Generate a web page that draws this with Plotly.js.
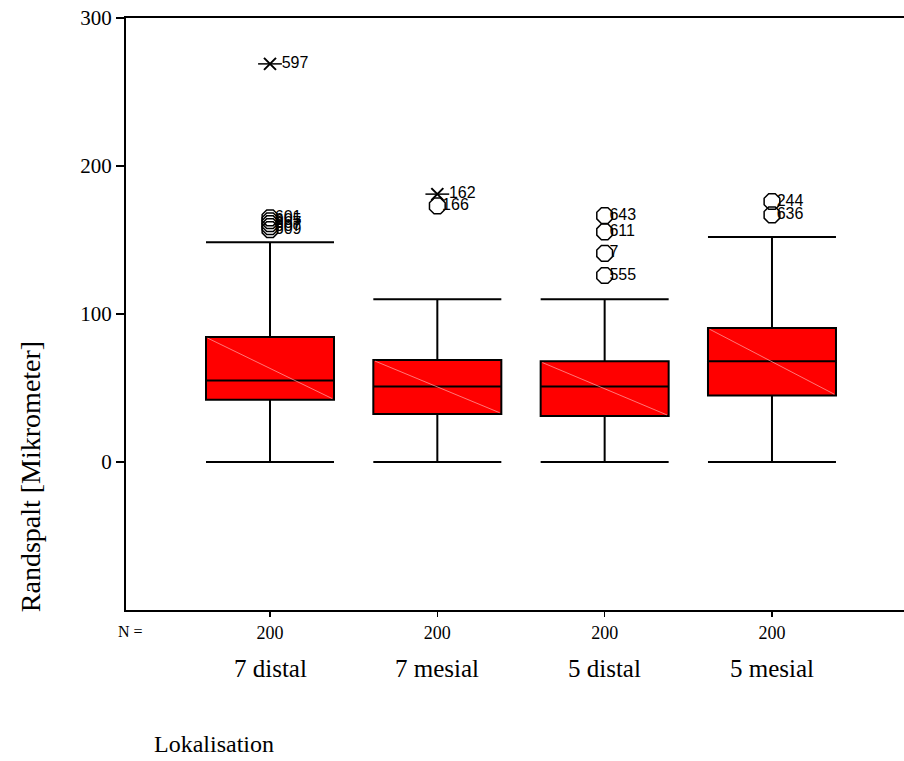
<!DOCTYPE html>
<html><head><meta charset="utf-8">
<script src="https://cdn.plot.ly/plotly-3.0.1.min.js"></script>
<style>html,body{margin:0;padding:0;background:#fff;overflow:hidden}</style>
</head><body><div id="chart" style="width:904px;height:761px"></div>
<script>
const categories = ["7 distal", "7 mesial", "5 distal", "5 mesial"];
const positions = [1, 2, 3, 4];
const nCounts = [200, 200, 200, 200];
const q1 = [42, 32.5, 31, 45];
const median = [55, 51, 51, 68];
const q3 = [84.5, 69, 68, 90.5];
const lowerWhisker = [0, 0, 0, 0];
const upperWhisker = [148.5, 110, 110, 152];
const extremePos = [1, 2];
const extremeValues = [269, 181];
const extremeLabels = ["597", "162"];
const outlierPos = [1, 1, 1, 1, 1, 2, 3, 3, 3, 3, 4, 4];
const outlierValues = [165, 163, 161, 159, 157, 173, 166.5, 155.5, 141, 126, 176, 167];
const outlierLabels = ["601", "605", "667", "607", "609", "166", "643", "611", "7", "555", "244", "636"];

const boxWidth = 0.765;
const serif = "Liberation Serif, Times New Roman, serif";
const sans = "Liberation Sans, Arial, sans-serif";

const traces = [];
categories.forEach((c, i) => {
  traces.push({
    type: "box", name: c, x: [positions[i]],
    q1: [q1[i]], median: [median[i]], q3: [q3[i]],
    lowerfence: [lowerWhisker[i]], upperfence: [upperWhisker[i]],
    boxpoints: false, width: boxWidth, whiskerwidth: 1,
    fillcolor: "#ff0000", line: {color: "#000", width: 2},
    hoverinfo: "skip", showlegend: false
  });
});
// faint diagonal inside each box
categories.forEach((c, i) => {
  traces.push({
    type: "scatter", mode: "lines",
    x: [positions[i] - boxWidth / 2 + 0.01, positions[i] + boxWidth / 2 - 0.01],
    y: [q3[i] - 0.8, q1[i] + 0.8],
    line: {color: "rgba(255,170,170,0.7)", width: 1},
    hoverinfo: "skip", showlegend: false
  });
});
traces.push({
  type: "scatter", mode: "markers",
  x: outlierPos, y: outlierValues,
  marker: {symbol: "octagon-open", size: 17, color: "#000", line: {width: 1.5, color: "#000"}},
  hoverinfo: "skip", showlegend: false, cliponaxis: false
});
traces.push({
  type: "scatter", mode: "markers+text",
  x: outlierPos, y: outlierValues, text: outlierLabels,
  textposition: "middle right",
  textfont: {family: sans, size: 16, color: "#000"},
  marker: {size: 6, opacity: 0},
  hoverinfo: "skip", showlegend: false, cliponaxis: false
});
traces.push({
  type: "scatter", mode: "markers",
  x: extremePos, y: extremeValues,
  marker: {symbol: "x-thin-open", size: 12, color: "#000", line: {width: 2, color: "#000"}},
  hoverinfo: "skip", showlegend: false, cliponaxis: false
});
traces.push({
  type: "scatter", mode: "markers+text",
  x: extremePos, y: extremeValues, text: extremeLabels,
  textposition: "middle right",
  textfont: {family: sans, size: 16, color: "#000"},
  marker: {symbol: "line-ew-open", size: 17, color: "#000", line: {width: 1.5, color: "#000"}},
  hoverinfo: "skip", showlegend: false, cliponaxis: false
});

const annotations = categories.map((c, i) => ({
  x: positions[i], xref: "x", y: -0.098, yref: "paper",
  text: c, showarrow: false, xanchor: "center", yanchor: "middle",
  font: {family: serif, size: 25, color: "#000"}
}));
annotations.push({x: 0.0064, xref: "paper", y: -0.037, yref: "paper", text: "N =",
  showarrow: false, xanchor: "center", yanchor: "middle", font: {family: serif, size: 16, color: "#000"}});
annotations.push({x: 0.034, xref: "paper", y: -0.226, yref: "paper", text: "Lokalisation",
  showarrow: false, xanchor: "left", yanchor: "middle", font: {family: serif, size: 24, color: "#000"}});
annotations.push({x: -0.1234, xref: "paper", y: 0.226, yref: "paper", text: "Randspalt [Mikrometer]",
  textangle: -90, showarrow: false, xanchor: "center", yanchor: "middle", font: {family: serif, size: 28, color: "#000"}});

const layout = {
  width: 904, height: 761,
  margin: {l: 126, r: 0, t: 18, b: 151},
  paper_bgcolor: "#fff", plot_bgcolor: "#fff",
  showlegend: false,
  xaxis: {
    range: [0.1394, 4.789], showgrid: false, zeroline: false,
    showline: true, linecolor: "#000", linewidth: 2, mirror: true,
    tickvals: positions, ticktext: nCounts.map(String),
    ticks: "outside", ticklen: 5, tickwidth: 1.5, tickcolor: "#000",
    tickfont: {family: serif, size: 18, color: "#000"}
  },
  yaxis: {
    range: [-100, 300], showgrid: false, zeroline: false,
    showline: true, linecolor: "#000", linewidth: 2,
    tickvals: [0, 100, 200, 300],
    ticks: "outside", ticklen: 8, tickwidth: 2, tickcolor: "#000",
    tickfont: {family: serif, size: 21, color: "#000"}
  },
  annotations: annotations
};
Plotly.newPlot("chart", traces, layout, {staticPlot: true});
</script></body></html>
